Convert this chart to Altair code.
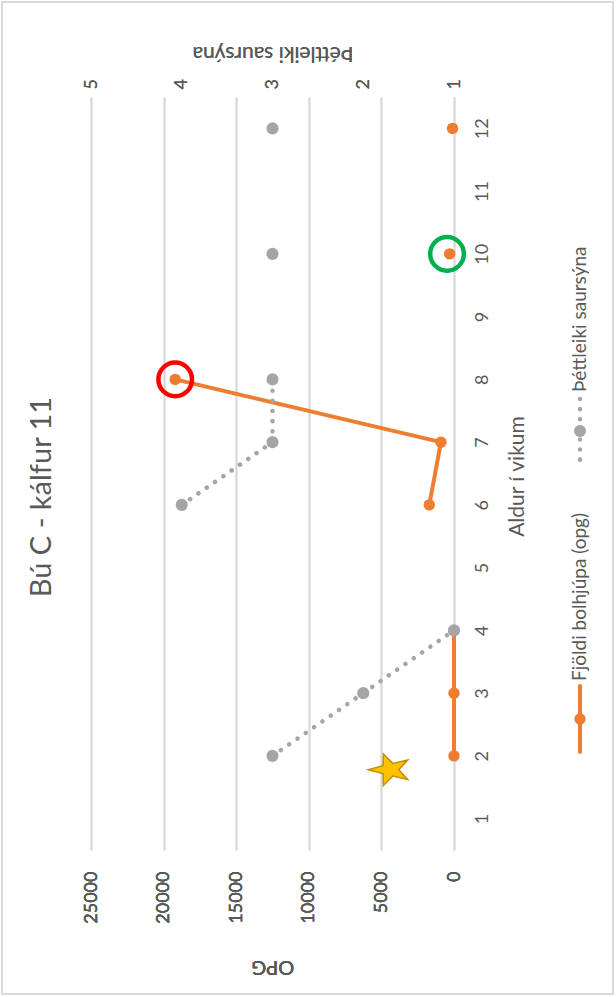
import math
import altair as alt
import pandas as pd

# ---- data ----
weeks = [2, 3, 4, 6, 7, 8, 10, 12]
opg = [0, 0, 0, 1700, 900, 19200, 300, 100]
density = [3, 2, 1, 4, 3, 3, 3, 3]
segment = ["a", "a", "a", "b", "b", "b", "c", "d"]

week_ticks = list(range(1, 13))
opg_ticks = [0, 5000, 10000, 15000, 20000, 25000]
density_ticks = [1, 2, 3, 4, 5]

ring_weeks = [8, 10]
ring_opg = [19200, 480]
ring_colors = ["#FF0000", "#00B050"]

star_week = [1.78]
star_opg = [4400]

series_names = ["Fjöldi bolhjúpa (opg)", "Þéttleiki saursýna"]
title_text = "Bú C - kálfur 11"
week_title = "Aldur í vikum"
opg_title = "OPG"
density_title = "Þéttleiki saursýna"

ORANGE = "#ED7D31"
GRAY = "#A5A5A5"
TEXT = "#595959"
GRID = "#D9D9D9"
FONT = "Lato"

W, H = 363, 753
OPG_MAX = 25000
DEN_MIN, DEN_MAX = 1, 5
K = OPG_MAX / (DEN_MAX - DEN_MIN)  # density -> opg-axis units


def star_path(inner=0.40, ysc=0.76):
    pts = []
    for i in range(10):
        r = 1.0 if i % 2 == 0 else inner
        a = math.pi + i * math.pi / 5
        pts.append((r * math.cos(a), r * math.sin(a) * ysc))
    return "M" + " L".join(f"{x:.3f},{y:.3f}" for x, y in pts) + " Z"


df = pd.DataFrame({"week": weeks, "opg": opg, "density": density, "seg": segment})
rings = pd.DataFrame({"week": ring_weeks, "opg": ring_opg, "color": ring_colors})
star = pd.DataFrame({"week": star_week, "opg": star_opg})
one = pd.DataFrame({"k": [0]})

y_enc = alt.Y(
    "week:Q",
    scale=alt.Scale(domain=[0.5, 12.5], nice=False, zero=False),
    axis=alt.Axis(
        orient="right", values=week_ticks, title=week_title, format="d",
        labelAngle=270, labelAlign="center", labelBaseline="middle", labelPadding=28,
        ticks=False, domain=False, grid=False, titleFontWeight=400,
        titleAngle=270, titleX=63, titleY=379, titleAlign="center", titleBaseline="middle",
    ),
)

x_scale = alt.Scale(domain=[0, OPG_MAX], reverse=True, nice=False, zero=True)

x_opg = alt.X(
    "opg:Q", scale=x_scale,
    axis=alt.Axis(
        orient="bottom", values=opg_ticks, title=opg_title, format="d",
        labelAngle=270, labelAlign="right", labelBaseline="middle", labelPadding=21,
        grid=True, gridColor=GRID, gridWidth=1.5, ticks=False, domain=False,
        titleFontWeight=400, titleFontSize=20,
        titleAngle=180, titleX=W / 2, titleY=116, titleAlign="center", titleBaseline="middle",
    ),
)

x_den = alt.X(
    "dens_x:Q", scale=x_scale,
    axis=alt.Axis(
        orient="top", values=[(d - DEN_MIN) * K for d in density_ticks], title=density_title,
        labelExpr=f"format(datum.value / {K} + {DEN_MIN}, 'd')",
        labelAngle=270, labelAlign="left", labelBaseline="middle", labelPadding=8,
        grid=False, ticks=False, domain=False, titleFontWeight=400,
        titleAngle=180, titleX=W / 2, titleY=-45, titleAlign="center", titleBaseline="middle",
    ),
)

frame = alt.Chart(one).mark_rect(fillOpacity=0, stroke=GRID, strokeWidth=2).encode(
    x=alt.value(-89), x2=alt.value(522), y=alt.value(-95), y2=alt.value(897)
)

base = alt.Chart(df)

orange_line = base.mark_line(
    color=ORANGE, strokeWidth=4, strokeCap="round", strokeJoin="round"
).encode(x=x_opg, y=y_enc, detail="seg:N", order=alt.Order("week:Q"))

orange_pts = base.mark_circle(color=ORANGE, size=130, opacity=1).encode(x=x_opg, y=y_enc)

ring_layer = alt.Chart(rings).mark_point(
    shape="circle", filled=False, size=1134, strokeWidth=4.5, opacity=1
).encode(x=x_opg, y=y_enc, color=alt.Color("color:N", scale=None))

star_layer = alt.Chart(star).mark_point(
    shape=star_path(), filled=True, fill="#FFC000", stroke="#BF9000", strokeWidth=1.5,
    size=1900, opacity=1
).encode(x=x_opg, y=y_enc)

gray_base = base.transform_calculate(dens_x=f"(datum.density - {DEN_MIN}) * {K}")

gray_line = gray_base.mark_line(
    color=GRAY, strokeWidth=4.5, strokeCap="round", strokeDash=[0.1, 10]
).encode(x=x_den, y=y_enc, detail="seg:N", order=alt.Order("week:Q"))

gray_pts = gray_base.mark_circle(color=GRAY, size=145, opacity=1).encode(x=x_den, y=y_enc)

# ---- custom (rotated) legend ----
leg_orange_line = alt.Chart(one).mark_rule(color=ORANGE, strokeWidth=4, strokeCap="round").encode(
    x=alt.value(489), y=alt.value(589), y2=alt.value(655)
)
leg_orange_pt = alt.Chart(one).mark_circle(color=ORANGE, size=130, opacity=1).encode(
    x=alt.value(489), y=alt.value(622)
)
leg_orange_txt = alt.Chart(pd.DataFrame({"t": [series_names[0]]})).mark_text(
    angle=270, align="left", baseline="middle", font=FONT, fontSize=19, color=TEXT
).encode(x=alt.value(489), y=alt.value(584), text="t:N")

leg_gray_line = alt.Chart(one).mark_rule(
    color=GRAY, strokeWidth=4.5, strokeCap="round", strokeDash=[0.1, 10]
).encode(x=alt.value(489), y=alt.value(302), y2=alt.value(367))
leg_gray_pt = alt.Chart(one).mark_circle(color=GRAY, size=145, opacity=1).encode(
    x=alt.value(489), y=alt.value(334)
)
leg_gray_txt = alt.Chart(pd.DataFrame({"t": [series_names[1]]})).mark_text(
    angle=270, align="left", baseline="middle", font=FONT, fontSize=19, color=TEXT
).encode(x=alt.value(489), y=alt.value(295), text="t:N")

title_mark = alt.Chart(pd.DataFrame({"t": [title_text]})).mark_text(
    angle=270, align="center", baseline="middle", font=FONT, fontSize=29, color=TEXT
).encode(x=alt.value(-49), y=alt.value(400), text="t:N")

chart = alt.layer(
    frame, orange_line, orange_pts, ring_layer, star_layer, gray_line, gray_pts,
    leg_orange_line, leg_orange_pt, leg_orange_txt,
    leg_gray_line, leg_gray_pt, leg_gray_txt, title_mark,
).resolve_axis(
    x="independent"
).properties(
    width=W, height=H,
    padding={"left": 91, "top": 97, "right": 162, "bottom": 147},
    autosize=alt.AutoSizeParams(type="none"),
    background="white",
).configure_view(stroke=None).configure_axis(
    labelFont=FONT, titleFont=FONT, labelColor=TEXT, titleColor=TEXT,
    labelFontSize=18, titleFontSize=21, titleFontWeight="normal",
)

chart.save("out.html", embed_options={"renderer": "svg", "actions": False})
